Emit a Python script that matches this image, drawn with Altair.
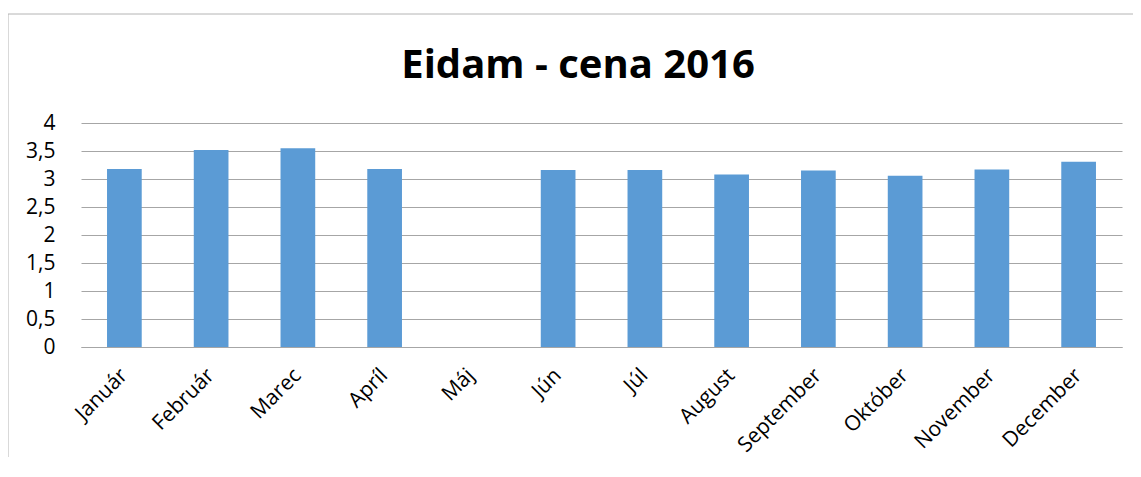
import altair as alt
import pandas as pd

months = ["Január", "Február", "Marec", "Apríl", "Máj", "Jún", "Júl",
          "August", "September", "Október", "November", "December"]
prices = [3.18, 3.52, 3.55, 3.18, None, 3.16, 3.16, 3.08, 3.15, 3.06, 3.17, 3.31]
y_ticks = [0, 0.5, 1, 1.5, 2, 2.5, 3, 3.5, 4]
title_text = ["Eidam - cena 2016"]

df = pd.DataFrame({"month": months, "price": prices})

FONT = "Open Sans"
GRID = "#a6a6a6"

frame = alt.Chart(pd.DataFrame({"k": [0]})).mark_rect(
    fillOpacity=0, stroke="#b4b4b4", strokeWidth=1
).encode(
    x=alt.value(-73), x2=alt.value(1065),
    y=alt.value(-109), y2=alt.value(360)
)

title = alt.Chart(pd.DataFrame({"t": title_text})).mark_text(
    font=FONT, fontSize=40, fontWeight="bold", color="#000000",
    align="center", baseline="alphabetic"
).encode(text="t:N", x=alt.value(497), y=alt.value(-45))

bars = alt.Chart(df).mark_bar(color="#5b9bd5").encode(
    x=alt.X("month:N", sort=months,
            scale=alt.Scale(paddingInner=0.6, paddingOuter=0.3),
            axis=alt.Axis(title=None, labelAngle=-45, labelAlign="right",
                          labelBaseline="middle", labelPadding=25,
                          ticks=False, tickSize=0, domainColor=GRID,
                          labelFont=FONT, labelFontSize=21, labelColor="#000000",
                          grid=False)),
    y=alt.Y("price:Q", scale=alt.Scale(domain=[0, 4], nice=False),
            axis=alt.Axis(title=None, values=y_ticks, ticks=False, tickSize=0,
                          domain=False, gridColor=GRID, labelPadding=26,
                          labelFont=FONT, labelFontSize=21, labelColor="#000000",
                          labelExpr="replace(format(datum.value, '~g'), '.', ',')"))
)

chart = alt.layer(frame, title, bars).properties(
    width=1041, height=224,
    autosize=alt.AutoSizeParams(type="none"),
    padding={"left": 73, "top": 115, "right": 11, "bottom": 110}
).configure_view(stroke=None)

chart.save("out.html", embed_options={"renderer": "svg", "actions": False})
